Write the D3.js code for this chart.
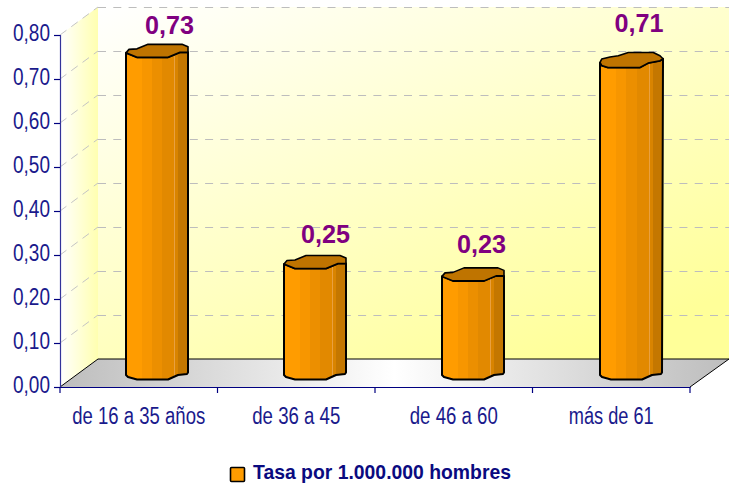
<!DOCTYPE html>
<html><head><meta charset="utf-8">
<style>html,body{margin:0;padding:0;background:#fff}svg{display:block}text{font-family:"Liberation Sans",Arial,sans-serif}</style>
<script src="https://cdnjs.cloudflare.com/ajax/libs/d3/7.8.5/d3.min.js"></script>
</head><body><svg id="c" width="734" height="486"></svg>
<script>
const categories = ["de 16 a 35 años","de 36 a 45","de 46 a 60","más de 61"];
const barValues = [0.731,0.251,0.223,0.708];
const valueLabels = ["0,73","0,25","0,23","0,71"];
const yTicks = [0,0.1,0.2,0.3,0.4,0.5,0.6,0.7,0.8];
const seriesName = "Tasa por 1.000.000 hombres";

const plotL=60,plotR=690,plotB=387,plotT=35,wallR=729,dx=38,dy=-28;
const x=d3.scaleBand().domain(categories).range([plotL,plotR]);
const barX=d3.scalePoint().domain(categories).range([126,600]);
const y=d3.scaleLinear().domain([0,0.8]).range([plotB,plotT]);
const svg=d3.select("#c");
const defs=svg.append("defs");
function grad(id,x1,y1,x2,y2,stops){
  const g=defs.append("linearGradient").attr("id",id).attr("x1",x1).attr("y1",y1).attr("x2",x2).attr("y2",y2);
  stops.forEach(s=>g.append("stop").attr("offset",s[0]).attr("stop-color",s[1]));
}
grad("wall",0,0,0.75,1,[[0,"#ffffff"],[1,"#ffff99"]]);
grad("side",0,0,1,0,[[0,"#ffffff"],[1,"#ffffb0"]]);
grad("floor",0,0,1,0,[[0,"#bdbdbd"],[0.5,"#ffffff"],[1,"#bdbdbd"]]);
grad("body",0,0,1,0,[[0,"#ff9c00"],[0.26,"#ff9c00"],[0.26,"#f79600"],[0.42,"#f79600"],[0.42,"#ec8f00"],[0.58,"#ec8f00"],[0.58,"#e28900"],[0.77,"#e28900"],[0.77,"#e9a040"],[0.79,"#e9a040"],[0.79,"#d98400"],[0.84,"#d98400"],[0.84,"#c47700"],[1,"#c47700"]]);

const line=d3.line();
svg.append("path").attr("d",line([[plotL+dx,y(0.8)+dy],[wallR,y(0.8)+dy],[wallR,plotB+dy],[plotL+dx,plotB+dy]])+"Z").attr("fill","url(#wall)");
svg.append("path").attr("d",line([[plotL,plotT],[plotL+dx,plotT+dy],[plotL+dx,plotB+dy],[plotL,plotB]])+"Z").attr("fill","url(#side)");
svg.append("path").attr("d",line([[plotL,plotB],[plotL+dx,plotB+dy],[wallR,plotB+dy],[plotR,plotB]])+"Z").attr("fill","url(#floor)");

yTicks.slice(1).forEach(t=>{
  svg.append("line").attr("x1",plotL+dx).attr("x2",wallR).attr("y1",y(t)+dy+0.5).attr("y2",y(t)+dy+0.5)
    .attr("stroke","#bdbdbd").attr("stroke-width",1).attr("stroke-dasharray","8 7.3");
  svg.append("line").attr("x1",plotL).attr("x2",plotL+dx).attr("y1",y(t)).attr("y2",y(t)+dy)
    .attr("stroke","#c4c4c4").attr("stroke-width",1).attr("stroke-dasharray","8 6");
});
svg.append("path").attr("fill","none").attr("stroke","#000").attr("stroke-width",1)
  .attr("d",line([[plotL,plotB],[plotL+dx,plotB+dy],[wallR,plotB+dy],[plotR,plotB]]));

// bar outlines, relative to the bar's left edge and its front-top level
const capA=[[0,-4.5],[3,-8],[11,-8.5],[22,-13],[56,-13],[62,-10.5],[62,-5],[54,-5],[42,0],[11,0]];
const capB=[[0,-5],[1.7,-8.4],[10,-10.4],[18.3,-11.7],[28.3,-15],[53.3,-15],[60,-11.7],[63,-8.7],[60,-6.7],[48,-4.4],[40,0],[8,0],[1.7,-2]];
const frontA=[[62,-5],[54,-5],[42,0],[11,0],[0,-4.5]];
const frontB=[[63,-8.7],[60,-6.7],[48,-4.4],[40,0],[8,0],[1.7,-2],[0,-4.7]];
const baseOutline=[[0,-12],[2,-10],[11,-7.5],[42,-7.5],[52,-12],[61,-13],[62,-14.5]];
const labelLift=[23.5,25.7,28,35.7], labelX=[43.5,41.5,39.5,39];
const g=svg.append("g");
categories.forEach((c,i)=>{
  const x0=barX(c);
  const yT=y(barValues[i])-8;
  const rel=p=>[x0+p[0],yT+p[1]];
  const base=baseOutline.map(p=>[x0+p[0],y(0)+p[1]]);
  const outline=[...(i===3?frontB:frontA).map(rel),...base];
  g.append("path").attr("d",line(outline)+"Z").attr("fill","url(#body)").attr("stroke","#000").attr("stroke-width",2).attr("stroke-linejoin","round");
  g.append("path").attr("d",line((i===3?capB:capA).map(rel))+"Z").attr("fill","#bf7400").attr("stroke","#000").attr("stroke-width",1.6).attr("stroke-linejoin","round");
  g.append("text").attr("x",x0+labelX[i]).attr("y",yT-labelLift[i]).attr("text-anchor","middle")
    .attr("font-size",25).attr("font-weight","bold").attr("fill","#800080").attr("textLength",49).attr("lengthAdjust","spacingAndGlyphs").text(valueLabels[i]);
});

const yAxis=d3.axisLeft(y).tickValues(yTicks).tickSize(6).tickPadding(4).tickFormat(d=>d3.format(".2f")(d).replace(".",","));
const ya=svg.append("g").attr("transform",`translate(${plotL},0)`).call(yAxis);
ya.select(".domain").attr("stroke","#33339a").attr("stroke-width",1.2);
ya.selectAll(".tick line").attr("stroke","#000080").attr("stroke-width",1.2);
ya.selectAll("text").attr("font-family","Liberation Sans").attr("font-size",23).attr("fill","#1a1a8c").attr("textLength",37).attr("lengthAdjust","spacingAndGlyphs").attr("dy",null).attr("y",5).attr("x",-10);

const xAxis=d3.axisBottom(x).tickSize(0).tickPadding(0);
const xa=svg.append("g").attr("transform",`translate(0,${plotB})`).call(xAxis);
xa.select(".domain").attr("stroke","#000080").attr("stroke-width",1.2);
const xLen=[133,88,88,85];
xa.selectAll("text").attr("font-family","Liberation Sans").attr("font-size",23).attr("fill","#1a1a8c").attr("dy",null).attr("y",37)
  .attr("textLength",(d,i)=>xLen[i]).attr("lengthAdjust","spacingAndGlyphs");
const boundaries=categories.map(c=>x(c)).concat([plotR]);
xa.selectAll(".edge").data(boundaries).enter().append("line").attr("class","edge")
  .attr("x1",d=>d).attr("x2",d=>d).attr("y1",0).attr("y2",6).attr("stroke","#000080").attr("stroke-width",1.2);

svg.append("rect").attr("x",230.5).attr("y",467.5).attr("width",14).attr("height",14).attr("rx",1).attr("fill","#ff9c00").attr("stroke","#000").attr("stroke-width",1.6);
svg.append("text").attr("x",253).attr("y",479).attr("font-size",21).attr("font-weight","bold").attr("fill","#0a0a80").attr("textLength",258).attr("lengthAdjust","spacingAndGlyphs").text(seriesName);
</script></body></html>
